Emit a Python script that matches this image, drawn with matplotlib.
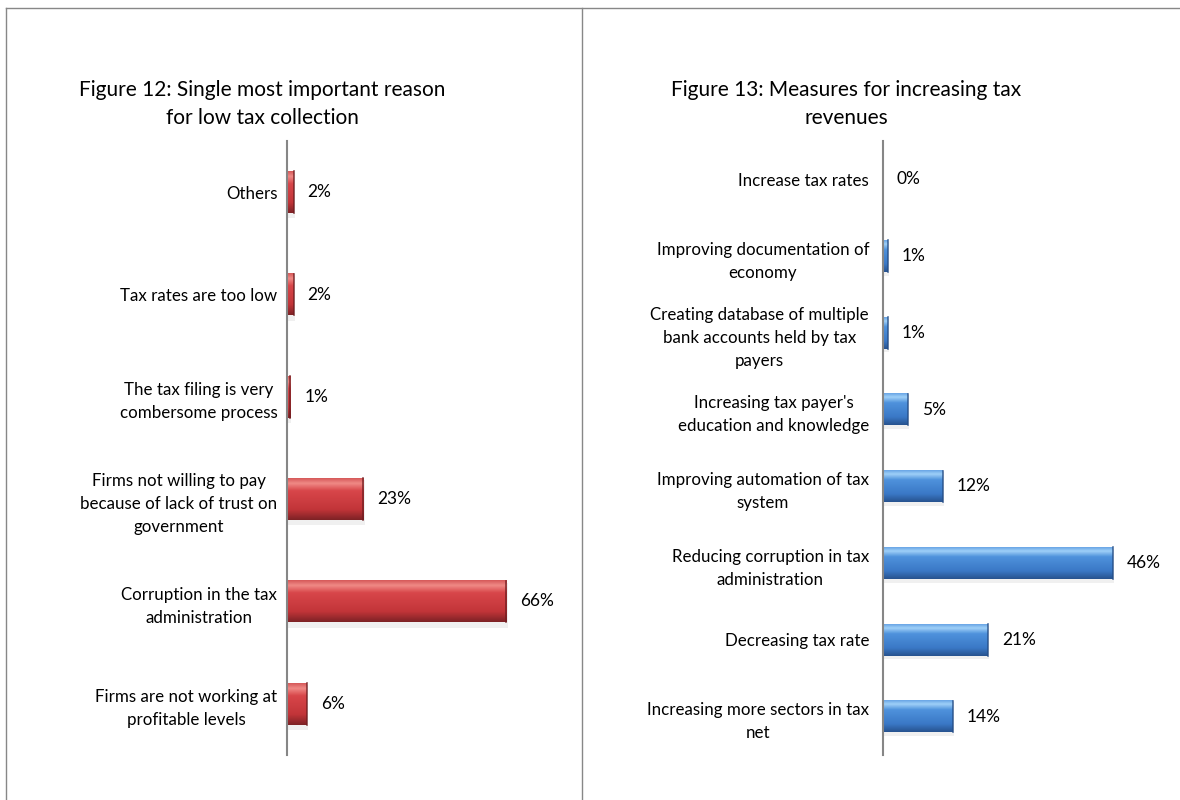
import numpy as np
import matplotlib
matplotlib.use("Agg")
import matplotlib.pyplot as plt
from matplotlib.lines import Line2D
from matplotlib.colors import to_rgb

plt.rcParams['font.family'] = ['Lato', 'DejaVu Sans']

# Figure 12 (bottom to top)
reasons = ["Firms are not working at\nprofitable levels",
           "Corruption in the tax\nadministration",
           "Firms not willing to pay\nbecause of lack of trust on\ngovernment",
           "The tax filing is very\ncombersome process",
           "Tax rates are too low",
           "Others"]
reason_pct = [6, 66, 23, 1, 2, 2]

# Figure 13 (bottom to top)
measures = ["Increasing more sectors in tax\nnet",
            "Decreasing tax rate",
            "Reducing corruption in tax\nadministration",
            "Improving automation of tax\nsystem",
            "Increasing tax payer's\neducation and knowledge",
            "Creating database of multiple\nbank accounts held by tax\npayers",
            "Improving documentation of\neconomy",
            "Increase tax rates"]
measure_pct = [14, 21, 46, 12, 5, 1, 1, 0]

title12 = "Figure 12: Single most important reason\nfor low tax collection"
title13 = "Figure 13: Measures for increasing tax\nrevenues"

W, H = 1180, 800
fig = plt.figure(figsize=(W / 100, H / 100), dpi=100)


def gradient(stops, n=64):
    # vertical colour ramp, top row first
    pos = np.linspace(0, 1, n)
    sp = [s[0] for s in stops]
    cols = np.array([to_rgb(s[1]) for s in stops])
    return np.stack([np.interp(pos, sp, cols[:, k]) for k in range(3)], axis=1)[:, None, :]


red = gradient([(0, "#d65a5a"), (0.12, "#f08a86"), (0.3, "#d8464a"),
                (0.75, "#c23539"), (1, "#7e2225")])
blue = gradient([(0, "#6aa6e6"), (0.12, "#9fd0f8"), (0.3, "#4f92dc"),
                 (0.75, "#3a78c6"), (1, "#27538f")])
red_edge = "#6e1c1f"
blue_edge = "#234c85"


def draw_chart(ax, labels, values, ramp, edge, xmax, pad):
    y = np.arange(len(values))
    h = 0.41
    for yi, v in zip(y, values):
        if v > 0:
            # soft shadow
            ax.fill_between([0, v + xmax * 0.004], yi - h / 2 - 0.05, yi + h / 2 - 0.02,
                            color="#000000", alpha=0.06, lw=0, zorder=1)
            ax.imshow(ramp, extent=[0, v, yi - h / 2, yi + h / 2], aspect="auto",
                      interpolation="bilinear", zorder=2)
            ax.plot([v, v], [yi - h / 2, yi + h / 2], color=edge, lw=1.2,
                    alpha=0.8, zorder=3)
        ax.annotate(f"{v}%", (v, yi), xytext=(10, 0), textcoords="offset points",
                    va="center", ha="left", fontsize=12.5, color="#000000")
    ax.set_xlim(0, xmax)
    ax.set_ylim(-0.5, len(values) - 0.5)
    ax.set_yticks(y)
    ax.set_yticklabels(labels, fontsize=12.2, linespacing=1.55)
    for lab in ax.get_yticklabels():
        lab.set_multialignment("center")
    ax.set_xticks([])
    ax.tick_params(axis="y", length=0, pad=pad)
    for s in ["top", "right", "bottom"]:
        ax.spines[s].set_visible(False)
    ax.spines["left"].set_color("#868686")
    ax.spines["left"].set_linewidth(1.5)
    ax.spines["left"].set_zorder(4)
    ax.patch.set_alpha(0)


bottom = 45 / H
height = (755 - 141) / H

ax1 = fig.add_axes([287 / W, bottom, 266 / W, height])
draw_chart(ax1, reasons, reason_pct, red, red_edge, 80, 7)

ax2 = fig.add_axes([883 / W, bottom, 250 / W, height])
draw_chart(ax2, measures, measure_pct, blue, blue_edge, 50, 10)

fig.text(262 / W, 1 - 104 / H, title12, ha="center", va="center",
         fontsize=15, linespacing=1.45)
fig.text(846 / W, 1 - 104 / H, title13, ha="center", va="center",
         fontsize=15, linespacing=1.45)

# panel borders
border = dict(color="#878787", lw=1.0, transform=fig.transFigure)
fig.add_artist(Line2D([6 / W, 1], [1 - 8 / H, 1 - 8 / H], **border))
fig.add_artist(Line2D([6 / W, 6 / W], [0, 1 - 8 / H], **border))
fig.add_artist(Line2D([582 / W, 582 / W], [0, 1 - 8 / H], **border))

fig.savefig("out.png", dpi=100, facecolor="white")
